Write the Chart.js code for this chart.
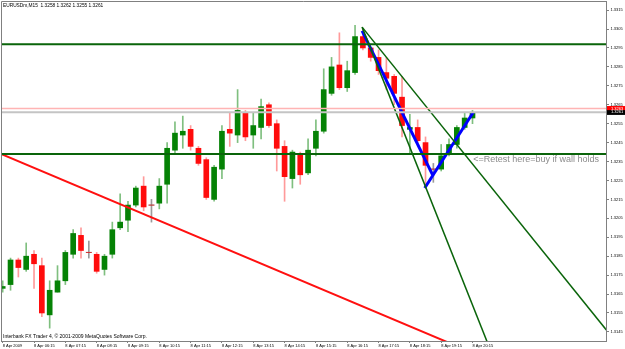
<!DOCTYPE html>
<html>
<head>
<meta charset="utf-8">
<title>EURUSDm,M15</title>
<script src="https://cdn.jsdelivr.net/npm/chart.js@4.4.1/dist/chart.umd.min.js"></script>
<style>
  html, body { margin: 0; padding: 0; background: #ffffff; }
  #wrap { width: 625px; height: 349px; }
</style>
</head>
<body>
<div id="wrap"><canvas id="chart" width="625" height="349"></canvas></div>
<script>
// 15-minute bars, 8 Apr 2009, 05:15 .. 20:15 (bar index 0..60)
const opens = [
  1.3168, 1.3170, 1.3183, 1.3178, 1.3186, 1.3180, 1.3154, 1.3166, 1.3172, 1.3186,
  1.3196, 1.3187, 1.3186, 1.3178, 1.3186, 1.3200, 1.3204, 1.3212, 1.3222, 1.3212,
  1.3213, 1.3223, 1.3241, 1.3249, 1.3252, 1.3242, 1.3236, 1.3215, 1.3231, 1.3252,
  1.3249, 1.3261, 1.3249, 1.3253, 1.3265, 1.3255, 1.3243, 1.3226, 1.3239, 1.3229,
  1.3242, 1.3251, 1.3271, 1.3286, 1.3274, 1.3282, 1.3301, 1.3295, 1.3290, 1.3282,
  1.3280, 1.3269, 1.3252, 1.3253, 1.3245, 1.3231, 1.3231, 1.3239, 1.3244, 1.3253,
  1.3258
];
const highs = [
  1.3172, 1.3184, 1.3184, 1.3192, 1.3188, 1.3184, 1.3172, 1.3180, 1.3188, 1.3199,
  1.3200, 1.3193, 1.3187, 1.3186, 1.3203, 1.3218, 1.3214, 1.3222, 1.3227, 1.3215,
  1.3226, 1.3245, 1.3256, 1.3259, 1.3254, 1.3243, 1.3237, 1.3233, 1.3254, 1.3261,
  1.3273, 1.3262, 1.3261, 1.3268, 1.3266, 1.3257, 1.3246, 1.3241, 1.3240, 1.3247,
  1.3257, 1.3284, 1.3290, 1.3303, 1.3288, 1.3307, 1.3305, 1.3295, 1.3294, 1.3290,
  1.3281, 1.3280, 1.3260, 1.3257, 1.3248, 1.3234, 1.3244, 1.3247, 1.3254, 1.3261,
  1.3262
];
const lows = [
  1.3166, 1.3167, 1.3174, 1.3177, 1.3168, 1.3153, 1.3147, 1.3166, 1.3170, 1.3184,
  1.3184, 1.3184, 1.3176, 1.3175, 1.3184, 1.3199, 1.3198, 1.3211, 1.3209, 1.3203,
  1.3210, 1.3213, 1.3239, 1.3242, 1.3241, 1.3233, 1.3215, 1.3214, 1.3226, 1.3243,
  1.3245, 1.3246, 1.3242, 1.3247, 1.3253, 1.3230, 1.3214, 1.3221, 1.3223, 1.3228,
  1.3238, 1.3250, 1.3270, 1.3273, 1.3272, 1.3281, 1.3294, 1.3288, 1.3281, 1.3273,
  1.3265, 1.3248, 1.3239, 1.3245, 1.3221, 1.3224, 1.3230, 1.3238, 1.3242, 1.3252,
  1.3255
];
const closes = [
  1.3169, 1.3183, 1.3179, 1.3185, 1.3181, 1.3155, 1.3167, 1.3172, 1.3187, 1.3197,
  1.3188, 1.3187, 1.3177, 1.3185, 1.3199, 1.3203, 1.3212, 1.3221, 1.3211, 1.3212,
  1.3222, 1.3242, 1.3250, 1.3251, 1.3243, 1.3234, 1.3216, 1.3232, 1.3251, 1.3250,
  1.3262, 1.3248, 1.3254, 1.3264, 1.3254, 1.3242, 1.3227, 1.3240, 1.3228, 1.3241,
  1.3251, 1.3273, 1.3285, 1.3274, 1.3283, 1.3301, 1.3295, 1.3290, 1.3283, 1.3279,
  1.3271, 1.3254, 1.3253, 1.3246, 1.3233, 1.3231, 1.3238, 1.3244, 1.3253, 1.3258,
  1.3261
];

// bottom axis: one label every 4 bars (hourly)
const timeTickBars = [0, 4, 8, 12, 16, 20, 24, 28, 32, 36, 40, 44, 48, 52, 56, 60];
const timeLabels = [
  "8 Apr 2009", "8 Apr 06:15", "8 Apr 07:15", "8 Apr 08:15", "8 Apr 09:15",
  "8 Apr 10:15", "8 Apr 11:15", "8 Apr 12:15", "8 Apr 13:15", "8 Apr 14:15",
  "8 Apr 15:15", "8 Apr 16:15", "8 Apr 17:15", "8 Apr 18:15", "8 Apr 19:15",
  "8 Apr 20:15"
];
// right axis price labels
const priceTicks = [
  1.3145, 1.3155, 1.3165, 1.3175, 1.3185, 1.3195, 1.3205, 1.3215, 1.3225,
  1.3235, 1.3245, 1.3255, 1.3265, 1.3275, 1.3285, 1.3295, 1.3305, 1.3315
];

// horizontal levels
const resistanceLevel = 1.3297;
const supportLevel = 1.3239;
const askPrice = 1.3263;
const bidPrice = 1.3261;

// drawn lines: [bar, bar] and [price, price]
const redTrendBars = [-0.22, 60];
const redTrendPrices = [1.3239, 1.3134];
const fanOuterBars = [45.9, 77.1];
const fanOuterPrices = [1.3306, 1.3146];
const fanInnerBars = [45.9, 63];
const fanInnerPrices = [1.3306, 1.3128];
const blueDownBars = [45.9, 54.9];
const blueDownPrices = [1.3304, 1.3228];
const blueUpBars = [53.9, 60.1];
const blueUpPrices = [1.3221, 1.3261];

const titleText = "EURUSDm,M15  1.3258 1.3262 1.3255 1.3261";
const footerText = "Interbank FX Trader 4, \u00a9 2001-2009 MetaQuotes Software Corp.";
const noteText = "<=Retest here=buy if wall holds";
const noteBar = 60.1;
const notePrice = 1.32363;

const X_MIN = -0.217;
const X_MAX = 77.05;
const FONT = '"Liberation Sans", Arial, sans-serif';

function seg(xs, ys) {
  return [{ x: xs[0], y: ys[0] }, { x: xs[1], y: ys[1] }];
}
function level(p) {
  return seg([X_MIN, X_MAX], [p, p]);
}
function lineSet(data, color, width) {
  return {
    type: "line", data, borderColor: color, borderWidth: width,
    pointRadius: 0, pointHoverRadius: 0, fill: false, tension: 0, order: 0,
  };
}
// keep the plot area exactly where the axis sizes put it
function noPadding(s) {
  s.paddingTop = 0;
  s.paddingBottom = 0;
  s.paddingLeft = 0;
  s.paddingRight = 0;
}

const bars = opens.map((o, i) => i);
const isUp = (i) => closes[i] > opens[i];
const isDown = (i) => closes[i] < opens[i];

const wickColor = (ctx) => isUp(ctx.dataIndex) ? "#7fbf7f" : isDown(ctx.dataIndex) ? "#ff9a9a" : "#9a9a9a";
const bodyColor = (ctx) => isUp(ctx.dataIndex) ? "#058205" : "#ff0c0c";

// small overlay: frame, texts, price boxes on the axis
const overlayPlugin = {
  id: "overlay",
  afterDraw(chart) {
    const { ctx, chartArea: a, scales } = chart;
    const x = scales.x, y = scales.y;
    ctx.save();
    ctx.strokeStyle = "#808080";
    ctx.lineWidth = 1;
    ctx.beginPath();
    ctx.moveTo(a.left + 0.5, a.bottom);
    ctx.lineTo(a.left + 0.5, a.top + 0.5);
    ctx.lineTo(a.right, a.top + 0.5);
    ctx.stroke();

    ctx.textAlign = "left";
    ctx.textBaseline = "middle";
    ctx.fillStyle = "#000000";
    ctx.font = "4.8px " + FONT;
    ctx.fillText(titleText, 3, 5.5);
    ctx.font = "5px " + FONT;
    ctx.fillText(footerText, 3, 336.5);

    ctx.fillStyle = "#8c8c8c";
    ctx.font = "9px " + FONT;
    ctx.fillText(noteText, x.getPixelForValue(noteBar), y.getPixelForValue(notePrice));

    // ask / bid boxes
    ctx.font = "4px " + FONT;
    const ya = y.getPixelForValue(askPrice);
    ctx.fillStyle = "#ff0000";
    ctx.fillRect(a.right + 1, ya - 2.5, 625 - a.right - 1, 5);
    ctx.fillStyle = "#ffffff";
    ctx.fillText(askPrice.toFixed(4), a.right + 5, ya);
    const yb = y.getPixelForValue(bidPrice);
    ctx.fillStyle = "#000000";
    ctx.fillRect(a.right + 1, yb - 2.2, 625 - a.right - 1, 4.8);
    ctx.fillStyle = "#ffffff";
    ctx.fillText(bidPrice.toFixed(4), a.right + 5, yb);
    ctx.restore();
  },
};

new Chart(document.getElementById("chart"), {
  type: "bar",
  data: {
    datasets: [
      lineSet(level(resistanceLevel), "#0a640a", 2),
      lineSet(level(supportLevel), "#0a640a", 2),
      lineSet(level(askPrice), "#ffb4b4", 1.5),
      lineSet(level(bidPrice), "#c4c4c4", 2),
      lineSet(seg(redTrendBars, redTrendPrices), "#ff1010", 2),
      lineSet(seg(fanOuterBars, fanOuterPrices), "#0a640a", 1.5),
      lineSet(seg(fanInnerBars, fanInnerPrices), "#0a640a", 1.5),
      lineSet(seg(blueDownBars, blueDownPrices), "#0000ff", 3),
      lineSet(seg(blueUpBars, blueUpPrices), "#0000ff", 3),
      {
        // candle bodies
        data: bars.map((i) => ({ x: i, y: [opens[i], closes[i]] })),
        backgroundColor: bodyColor,
        barThickness: 5,
        grouped: false,
        order: 1,
      },
      {
        // doji crosses
        type: "line",
        data: bars.filter((i) => opens[i] === closes[i]).map((i) => ({ x: i, y: opens[i] })),
        showLine: false,
        pointStyle: "line",
        pointRadius: 3,
        pointHoverRadius: 3,
        pointBorderWidth: 1,
        pointBorderColor: "#7a7a7a",
        order: 2,
      },
      {
        // wicks
        data: bars.map((i) => ({ x: i, y: [lows[i], highs[i]] })),
        backgroundColor: wickColor,
        barThickness: 1,
        grouped: false,
        order: 3,
      },
    ],
  },
  options: {
    responsive: false,
    animation: false,
    devicePixelRatio: 1,
    layout: { autoPadding: false, padding: { left: 1, top: 1, right: 0, bottom: 0 } },
    plugins: { legend: { display: false }, tooltip: { enabled: false } },
    scales: {
      x: {
        type: "linear",
        min: X_MIN,
        max: X_MAX,
        offset: false,
        afterBuildTicks: (s) => { s.ticks = timeTickBars.map((v) => ({ value: v })); },
        afterFit: (s) => { s.height = 8; noPadding(s); },
        grid: { drawOnChartArea: false, drawTicks: true, tickLength: 2, color: "#808080", offset: false },
        border: { display: true, color: "#808080", width: 1 },
        ticks: {
          autoSkip: false,
          maxRotation: 0,
          align: "start",
          padding: 0,
          color: "#000000",
          font: { family: FONT, size: 4 },
          callback: (v, idx) => timeLabels[idx],
        },
      },
      y: {
        type: "linear",
        position: "right",
        min: 1.31402,
        max: 1.33198,
        beginAtZero: false,
        afterBuildTicks: (s) => { s.ticks = priceTicks.map((v) => ({ value: v })); },
        afterFit: (s) => { s.width = 19; noPadding(s); },
        grid: { drawOnChartArea: false, drawTicks: true, tickLength: 3, color: "#808080" },
        border: { display: true, color: "#808080", width: 1 },
        ticks: {
          padding: 1.5,
          color: "#000000",
          font: { family: FONT, size: 4 },
          callback: (v) => Number(v).toFixed(4),
        },
      },
    },
  },
  plugins: [overlayPlugin],
});
</script>
</body>
</html>
